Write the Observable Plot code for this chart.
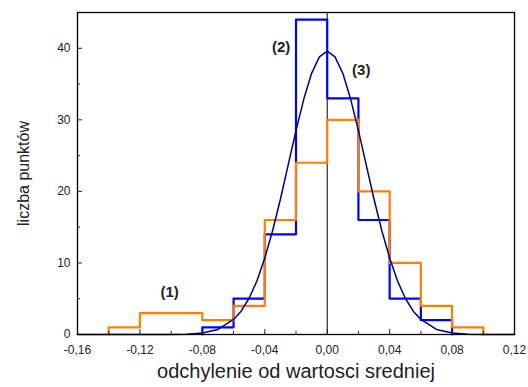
<!DOCTYPE html>
<html>
<head>
<meta charset="utf-8">
<script src="https://cdn.jsdelivr.net/npm/d3@7"></script>
<script src="https://cdn.jsdelivr.net/npm/@observablehq/plot@0.6"></script>
<style>
  html, body { margin: 0; padding: 0; background: #fff; }
  svg { font-family: Arial, "Liberation Sans", sans-serif; }
</style>
</head>
<body>
<div id="chart"></div>
<script>
// Histogram (1) – orange, bins of width 0.02 starting at these edges
const orangeEdges = [-0.14, -0.12, -0.10, -0.08, -0.06, -0.04, -0.02, 0.00, 0.02, 0.04, 0.06, 0.08, 0.10];
const orangeCounts = [1, 3, 3, 2, 4, 16, 24, 30, 20, 10, 4, 1];

// Histogram (2) – blue
const blueEdges = [-0.08, -0.06, -0.04, -0.02, 0.00, 0.02, 0.04, 0.06, 0.08];
const blueCounts = [1, 5, 14, 44, 33, 16, 5, 2];

// Fitted curve (3) – navy
const curveX = [-0.16, -0.10, -0.09, -0.08, -0.07, -0.06, -0.055, -0.05, -0.045, -0.04, -0.035, -0.03, -0.025, -0.02, -0.015, -0.01, -0.005, 0,
                0.005, 0.01, 0.015, 0.02, 0.025, 0.03, 0.035, 0.04, 0.045, 0.05, 0.055, 0.06, 0.07, 0.08, 0.09, 0.10, 0.12];
const curveY = [0, 0.01, 0.05, 0.2, 0.7, 2.1, 3.3, 5.1, 7.5, 10.7, 14.5, 18.9, 23.7, 28.5, 32.9, 36.5, 38.8, 39.6,
                38.8, 36.5, 32.9, 28.5, 23.7, 18.9, 14.5, 10.7, 7.5, 5.1, 3.3, 2.1, 0.7, 0.2, 0.05, 0.01, 0];

// Annotations
const annotText = ["(1)", "(2)", "(3)"];
const annotX = [-0.101, -0.0295, 0.0218];
const annotY = [5.9, 40.1, 36.9];

// Axis ticks
const xMajor = [-0.16, -0.12, -0.08, -0.04, 0.00, 0.04, 0.08, 0.12];
const xMinor = [-0.14, -0.10, -0.06, -0.02, 0.02, 0.06, 0.10];
const yMajor = [0, 10, 20, 30, 40];
const yMinor = [5, 15, 25, 35];

const xTitle = "odchylenie od wartosci sredniej";
const yTitle = "liczba punktów";

function stepData(edges, counts) {
  const pts = [{x: edges[0], y: 0}];
  counts.forEach((c, i) => pts.push({x: edges[i], y: c}));
  pts.push({x: edges[edges.length - 1], y: 0});
  return pts;
}
const orangeStep = stepData(orangeEdges, orangeCounts);
const blueStep = stepData(blueEdges, blueCounts);
const curve = curveX.map((x, i) => ({x, y: curveY[i]}));
const annots = annotText.map((t, i) => ({t, x: annotX[i], y: annotY[i]}));

const fmt = d => d.toFixed(2).replace(".", ",");

const chart = Plot.plot({
  width: 528,
  height: 387,
  marginLeft: 77,
  marginRight: 14,
  marginTop: 12,
  marginBottom: 53,
  style: {fontFamily: 'Arial, "Liberation Sans", sans-serif', fontSize: "12px", color: "#222"},
  x: {domain: [-0.16, 0.12]},
  y: {domain: [0, 45]},
  marks: [
    Plot.ruleX([0], {stroke: "black", strokeWidth: 1}),
    Plot.line(blueStep, {x: "x", y: "y", curve: "step-after", stroke: "#0000ff", strokeWidth: 2.2}),
    Plot.line(orangeStep, {x: "x", y: "y", curve: "step-after", stroke: "#ff8000", strokeWidth: 2.2}),
    Plot.line(curve, {x: "x", y: "y", stroke: "#000080", strokeWidth: 1.5}),
    Plot.text(annots, {x: "x", y: "y", text: "t", fontWeight: "bold", fontSize: 15, fill: "#222"}),
    Plot.axisX({ticks: xMajor, tickSize: -5, tickPadding: 16, tickFormat: fmt, label: null, fontSize: 12}),
    Plot.axisX({ticks: xMinor, tickSize: -3, tickFormat: () => "", label: null}),
    Plot.axisY({ticks: yMajor, tickSize: -5, tickPadding: 12, tickFormat: d => String(d), label: null, fontSize: 12}),
    Plot.axisY({ticks: yMinor, tickSize: -3, tickFormat: () => "", label: null}),
    Plot.axisY({ticks: [], label: yTitle, labelAnchor: "center", labelArrow: "none", labelOffset: 60, fontSize: 16}),
    Plot.frame({stroke: "black", strokeWidth: 1.3}),
    Plot.text([xTitle], {frameAnchor: "bottom", text: d => d, dy: 43, fontSize: 20, fill: "#222"})
  ]
});
document.getElementById("chart").appendChild(chart);
</script>
</body>
</html>
